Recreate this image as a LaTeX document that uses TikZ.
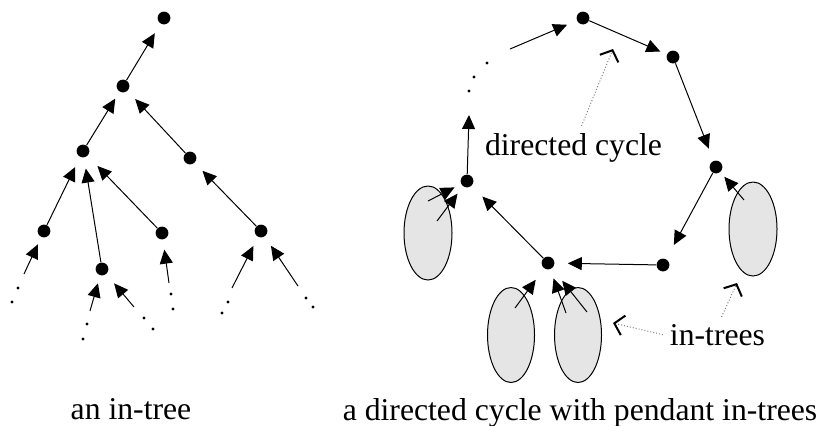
\documentclass[tikz,border=0pt]{standalone}
\usepackage{fontspec}
\setmainfont{Liberation Serif}
\usetikzlibrary{arrows.meta}

\tikzset{
  vertex/.style={circle,fill=black,inner sep=0pt,minimum size=6.4pt},
  arc/.style={line width=0.5pt,-{Triangle[length=7pt,width=6.5pt]},shorten >=5.5pt},
  tail/.style={line width=0.5pt,-{Triangle[length=7pt,width=6.5pt]}},
  pendant/.style={draw,line width=0.5pt,fill=black!10},
  pointer/.style={densely dotted,gray,line width=0.5pt,-{Straight Barb[length=4.5pt,width=10pt,line width=1pt,black]}},
}

\begin{document}
\begin{tikzpicture}[x=0.5pt,y=-0.5pt,font=\fontsize{15.85}{19}\selectfont]
\useasboundingbox (0,0) rectangle (822,425);

% the in-tree
\node[vertex] (root) at (164,18) {};
\node[vertex] (u) at (123,86) {};
\node[vertex] (v) at (83,151) {};
\node[vertex] (w) at (190,158) {};
\node[vertex] (a) at (44,231) {};
\node[vertex] (b) at (102,269) {};
\node[vertex] (c) at (162,233) {};
\node[vertex] (d) at (261,231) {};

\draw[arc] (u) -- (root);
\draw[arc,shorten >=4pt] (v) -- (u);
\draw[arc] (w) -- (u);
\draw[arc] (a) -- (v);
\draw[arc] (b) -- (v);
\draw[arc,shorten >=7pt] (c) -- (v);
\draw[arc] (d) -- (w);

% loose ends below the leaves
\coordinate (a1) at (24,274);
\coordinate (b1) at (90,311);
\coordinate (b2) at (134,307);
\coordinate (c1) at (169,283);
\coordinate (d1) at (232,288);
\coordinate (d2) at (298,286);
\draw[arc,shorten >=4pt] (a1) -- (a);
\draw[arc,shorten >=4pt] (b1) -- (b);
\draw[arc,shorten >=6pt] (b2) -- (b);
\draw[arc,shorten >=5pt] (c1) -- (c);
\draw[arc,shorten >=5pt] (d1) -- (d);
\draw[arc,shorten >=5.5pt] (d2) -- (d);

    \fill (18,288) circle[radius=0.8pt];
    \fill (12,302) circle[radius=0.8pt];
    \fill (87,324) circle[radius=0.8pt];
    \fill (83,339) circle[radius=0.8pt];
    \fill (144,318) circle[radius=0.8pt];
    \fill (153,329) circle[radius=0.8pt];
    \fill (171,294) circle[radius=0.8pt];
    \fill (173,309) circle[radius=0.8pt];
    \fill (228,302) circle[radius=0.8pt];
    \fill (222,313) circle[radius=0.8pt];
    \fill (306,298) circle[radius=0.8pt];
    \fill (313,307) circle[radius=0.8pt];

% the pendant in-trees
\draw[pendant] (428,233) ellipse[x radius=12pt,y radius=23.5pt];
\draw[pendant] (511,335) ellipse[x radius=11.75pt,y radius=23.75pt];
\draw[pendant] (578,335) ellipse[x radius=11.75pt,y radius=23.75pt];
\draw[pendant] (753,229) ellipse[x radius=12pt,y radius=23.5pt];

% the directed cycle
\node[vertex] (top) at (583,18) {};
\node[vertex] (tr) at (673,57) {};
\node[vertex] (r) at (716,167) {};
\node[vertex] (br) at (663,265) {};
\node[vertex] (bot) at (548,263) {};
\node[vertex] (l) at (467,181) {};

\coordinate (lup) at (469,115);
\coordinate (ldots) at (510,49);
\draw[tail] (l) -- (lup);
\draw[arc,shorten >=5.25pt] (ldots) -- (top);
\draw[arc,shorten >=3.5pt] (top) -- (tr);
\draw[arc,shorten >=6.5pt] (tr) -- (r);
\draw[arc,shorten >=8pt] (r) -- (br);
\draw[arc,shorten >=6.5pt] (br) -- (bot);
\draw[arc,shorten >=7.5pt] (bot) -- (l);

    \fill (469,91) circle[radius=0.8pt];
    \fill (474,77) circle[radius=0.8pt];
    \fill (487,63) circle[radius=0.8pt];

% arcs out of the pendant in-trees
\coordinate (t1a) at (428,201);
\coordinate (t1b) at (437,221);
\coordinate (t2a) at (515,308);
\coordinate (t3a) at (566,313);
\coordinate (t3b) at (587,312);
\coordinate (t4a) at (744,200);
\draw[arc,shorten >=3.6pt] (t1a) -- (l);
\draw[arc,shorten >=4.5pt] (t1b) -- (l);
\draw[arc,shorten >=7pt] (t2a) -- (bot);
\draw[arc,shorten >=4.75pt] (t3a) -- (bot);
\draw[arc,shorten >=8pt] (t3b) -- (bot);
\draw[arc,shorten >=3pt] (t4a) -- (r);

% labels
\node[anchor=base] (cycle) at (573.5,155) {directed cycle};
\node[anchor=base] (intrees) at (717.5,345) {in-trees};
\node[anchor=base] (intreecap) at (131,419) {an in-tree};
\node[anchor=base] (cyclecap) at (580,420) {a directed cycle with pendant in-trees};

\coordinate (cyclept) at (613,49);
\coordinate (tree3pt) at (613,323);
\coordinate (tree4pt) at (737,283);
\draw[pointer] ([xshift=4pt]cycle.north) -- (cyclept);
\draw[pointer] (intrees.west) -- (tree3pt);
\draw[pointer] ([xshift=2pt]intrees.north) -- (tree4pt);
\end{tikzpicture}
\end{document}
